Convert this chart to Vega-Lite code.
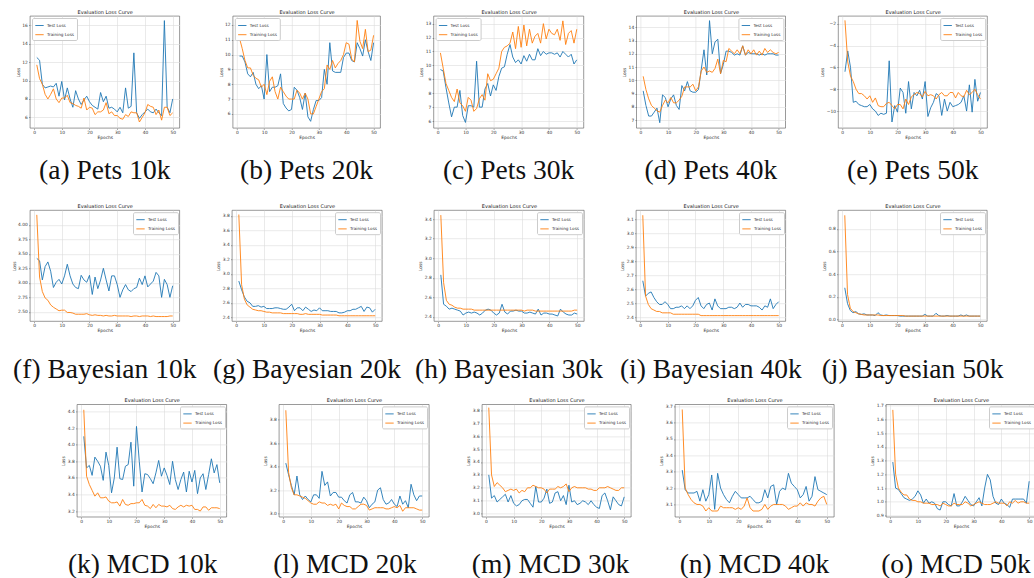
{
"$schema":"https://vega.github.io/schema/vega-lite/v6.json",
"padding":{"left":10,"top":8,"right":0,"bottom":0},
"bounds":"flush","spacing":194.2,
"resolve":{"scale":{"color":"independent","x":"independent","y":"independent"},"legend":{"color":"independent"}},
"config":{
"font":"DejaVu Sans",
"view":{"stroke":"#555","strokeWidth":0.6},
"axis":{"labelFont":"DejaVu Sans","labelFontSize":4.4,"labelColor":"#333","titleFont":"DejaVu Sans","titleFontSize":4.4,"titleFontWeight":"normal","titleColor":"#333","tickColor":"#555","tickSize":1.5,"tickWidth":0.5,"domain":false,"grid":true,"gridColor":"#dcdcdc","gridWidth":0.6,"labelPadding":1.2,"titlePadding":1.5},
"axisTop":{"labels":false,"ticks":false,"grid":false,"domain":false,"titleFontSize":5,"titlePadding":2,"titleColor":"#222"},
"legend":{"labelFont":"DejaVu Sans","labelFontSize":4.2,"labelColor":"#333","symbolType":"stroke","symbolSize":70,"symbolStrokeWidth":0.9,"padding":2.5,"rowPadding":1.2,"fillColor":"white","strokeColor":"#ccc","cornerRadius":1.5,"offset":2,"labelOffset":2.5},
"title":{"font":"Liberation Serif","fontSize":27.5,"fontWeight":"normal","color":"#111","orient":"bottom","anchor":"middle","frame":"group","offset":17.5}
},
"datasets":{
"a":[{"e":1,"t":12.5,"r":11.7},{"e":2,"t":12.2,"r":10.2},{"e":3,"t":9.6,"r":9.6},{"e":4,"t":9.2,"r":8.5},{"e":5,"t":9.3,"r":8.0},{"e":6,"t":9.4,"r":8.5},{"e":7,"t":9.3,"r":9.1},{"e":8,"t":9.7,"r":8.0},{"e":9,"t":8.3,"r":7.6},{"e":10,"t":9.9,"r":8.1},{"e":11,"t":7.9,"r":8.1},{"e":12,"t":9.2,"r":8.4},{"e":13,"t":8.0,"r":7.6},{"e":14,"t":7.1,"r":7.5},{"e":15,"t":8.9,"r":7.3},{"e":16,"t":8.0,"r":7.2},{"e":17,"t":7.4,"r":7.0},{"e":18,"t":7.9,"r":8.1},{"e":19,"t":8.3,"r":6.8},{"e":20,"t":7.7,"r":7.1},{"e":21,"t":7.3,"r":7.0},{"e":22,"t":7.1,"r":6.3},{"e":23,"t":6.9,"r":6.6},{"e":24,"t":8.7,"r":6.6},{"e":25,"t":7.7,"r":6.8},{"e":26,"t":8.3,"r":7.6},{"e":27,"t":7.0,"r":6.4},{"e":28,"t":7.1,"r":6.6},{"e":29,"t":6.9,"r":6.2},{"e":30,"t":6.6,"r":6.2},{"e":31,"t":7.1,"r":5.9},{"e":32,"t":6.5,"r":5.8},{"e":33,"t":9.2,"r":6.3},{"e":34,"t":7.0,"r":6.1},{"e":35,"t":7.2,"r":6.6},{"e":36,"t":13.0,"r":6.5},{"e":37,"t":6.5,"r":6.5},{"e":38,"t":5.9,"r":5.5},{"e":39,"t":6.3,"r":6.0},{"e":40,"t":6.6,"r":6.5},{"e":41,"t":6.9,"r":7.4},{"e":42,"t":6.6,"r":7.2},{"e":43,"t":6.5,"r":7.1},{"e":44,"t":6.9,"r":6.3},{"e":45,"t":6.5,"r":6.8},{"e":46,"t":6.2,"r":5.7},{"e":47,"t":16.5,"r":7.1},{"e":48,"t":7.1,"r":7.1},{"e":49,"t":6.5,"r":6.2},{"e":50,"t":8.0,"r":6.5}],
"b":[{"e":1,"t":9.9,"r":11.1},{"e":2,"t":9.9,"r":10.4},{"e":3,"t":9.5,"r":9.6},{"e":4,"t":8.7,"r":9.1},{"e":5,"t":8.5,"r":9.1},{"e":6,"t":8.8,"r":8.6},{"e":7,"t":8.0,"r":8.4},{"e":8,"t":7.7,"r":8.3},{"e":9,"t":7.9,"r":7.8},{"e":10,"t":7.0,"r":8.0},{"e":11,"t":10.0,"r":7.3},{"e":12,"t":7.5,"r":8.2},{"e":13,"t":7.8,"r":8.5},{"e":14,"t":7.8,"r":7.5},{"e":15,"t":7.9,"r":7.0},{"e":16,"t":8.7,"r":7.8},{"e":17,"t":6.7,"r":7.5},{"e":18,"t":6.4,"r":7.2},{"e":19,"t":6.2,"r":7.0},{"e":20,"t":6.3,"r":7.0},{"e":21,"t":7.8,"r":7.0},{"e":22,"t":7.6,"r":7.6},{"e":23,"t":7.1,"r":7.4},{"e":24,"t":6.3,"r":7.0},{"e":25,"t":7.4,"r":7.4},{"e":26,"t":5.8,"r":7.0},{"e":27,"t":5.5,"r":6.0},{"e":28,"t":6.3,"r":6.0},{"e":29,"t":6.9,"r":6.5},{"e":30,"t":6.9,"r":7.0},{"e":31,"t":7.1,"r":7.5},{"e":32,"t":9.0,"r":7.7},{"e":33,"t":8.0,"r":9.3},{"e":34,"t":10.8,"r":9.0},{"e":35,"t":8.9,"r":9.6},{"e":36,"t":8.8,"r":9.1},{"e":37,"t":8.8,"r":9.4},{"e":38,"t":8.8,"r":9.6},{"e":39,"t":9.8,"r":10.0},{"e":40,"t":10.1,"r":10.8},{"e":41,"t":10.1,"r":10.7},{"e":42,"t":9.6,"r":9.7},{"e":43,"t":9.5,"r":9.5},{"e":44,"t":10.8,"r":12.3},{"e":45,"t":10.4,"r":10.9},{"e":46,"t":9.9,"r":10.4},{"e":47,"t":11.0,"r":11.7},{"e":48,"t":10.2,"r":10.2},{"e":49,"t":9.6,"r":10.3},{"e":50,"t":10.8,"r":11.3}],
"c":[{"e":1,"t":9.7,"r":10.9},{"e":2,"t":9.6,"r":9.8},{"e":3,"t":8.4,"r":8.7},{"e":4,"t":7.3,"r":8.2},{"e":5,"t":6.3,"r":7.7},{"e":6,"t":7.0,"r":7.4},{"e":7,"t":7.0,"r":8.3},{"e":8,"t":8.2,"r":7.3},{"e":9,"t":6.4,"r":7.1},{"e":10,"t":5.9,"r":6.7},{"e":11,"t":7.1,"r":7.7},{"e":12,"t":7.1,"r":7.5},{"e":13,"t":7.0,"r":6.7},{"e":14,"t":10.3,"r":6.9},{"e":15,"t":7.0,"r":7.6},{"e":16,"t":7.0,"r":7.9},{"e":17,"t":8.3,"r":7.5},{"e":18,"t":8.7,"r":9.4},{"e":19,"t":7.8,"r":8.9},{"e":20,"t":8.6,"r":9.0},{"e":21,"t":8.2,"r":9.4},{"e":22,"t":9.2,"r":9.8},{"e":23,"t":9.8,"r":11.0},{"e":24,"t":9.9,"r":11.3},{"e":25,"t":10.8,"r":11.4},{"e":26,"t":11.5,"r":11.6},{"e":27,"t":10.6,"r":12.4},{"e":28,"t":10.2,"r":11.2},{"e":29,"t":10.4,"r":12.8},{"e":30,"t":10.1,"r":11.3},{"e":31,"t":10.7,"r":12.9},{"e":32,"t":10.3,"r":11.4},{"e":33,"t":10.8,"r":12.6},{"e":34,"t":10.4,"r":11.6},{"e":35,"t":10.4,"r":12.1},{"e":36,"t":11.2,"r":12.3},{"e":37,"t":10.7,"r":11.6},{"e":38,"t":11.0,"r":13.0},{"e":39,"t":10.8,"r":11.9},{"e":40,"t":10.9,"r":12.6},{"e":41,"t":10.9,"r":12.3},{"e":42,"t":10.8,"r":12.2},{"e":43,"t":10.9,"r":12.6},{"e":44,"t":10.6,"r":11.8},{"e":45,"t":11.0,"r":13.2},{"e":46,"t":10.8,"r":11.5},{"e":47,"t":10.6,"r":12.3},{"e":48,"t":10.8,"r":12.5},{"e":49,"t":10.1,"r":11.6},{"e":50,"t":10.4,"r":12.6}],
"d":[{"e":1,"t":9.2,"r":10.3},{"e":2,"t":8.1,"r":9.3},{"e":3,"t":7.3,"r":8.6},{"e":4,"t":7.3,"r":8.1},{"e":5,"t":7.6,"r":7.9},{"e":6,"t":7.9,"r":7.7},{"e":7,"t":6.8,"r":7.6},{"e":8,"t":8.9,"r":8.1},{"e":9,"t":8.7,"r":8.5},{"e":10,"t":8.0,"r":8.3},{"e":11,"t":8.6,"r":8.7},{"e":12,"t":8.9,"r":8.3},{"e":13,"t":8.1,"r":8.3},{"e":14,"t":7.8,"r":8.5},{"e":15,"t":9.6,"r":8.8},{"e":16,"t":9.2,"r":9.5},{"e":17,"t":9.9,"r":9.5},{"e":18,"t":9.2,"r":9.5},{"e":19,"t":9.1,"r":9.7},{"e":20,"t":9.1,"r":9.2},{"e":21,"t":9.3,"r":9.5},{"e":22,"t":10.8,"r":10.7},{"e":23,"t":12.3,"r":11.0},{"e":24,"t":10.4,"r":10.6},{"e":25,"t":14.5,"r":10.7},{"e":26,"t":12.0,"r":10.6},{"e":27,"t":12.9,"r":10.9},{"e":28,"t":13.1,"r":11.6},{"e":29,"t":10.5,"r":10.5},{"e":30,"t":11.2,"r":11.5},{"e":31,"t":12.2,"r":11.4},{"e":32,"t":12.2,"r":12.4},{"e":33,"t":12.1,"r":12.2},{"e":34,"t":11.9,"r":12.0},{"e":35,"t":12.0,"r":12.3},{"e":36,"t":11.9,"r":12.0},{"e":37,"t":12.6,"r":12.6},{"e":38,"t":11.9,"r":11.9},{"e":39,"t":12.1,"r":12.3},{"e":40,"t":12.0,"r":12.0},{"e":41,"t":12.0,"r":12.3},{"e":42,"t":12.0,"r":11.9},{"e":43,"t":11.9,"r":12.2},{"e":44,"t":12.0,"r":11.9},{"e":45,"t":11.9,"r":12.4},{"e":46,"t":12.0,"r":12.1},{"e":47,"t":12.0,"r":12.3},{"e":48,"t":12.0,"r":12.1},{"e":49,"t":11.9,"r":12.0},{"e":50,"t":11.9,"r":12.1}],
"ee":[{"e":1,"t":-6.4,"r":-1.7},{"e":2,"t":-4.5,"r":-5.5},{"e":3,"t":-6.0,"r":-6.8},{"e":4,"t":-9.2,"r":-7.3},{"e":5,"t":-9.1,"r":-8.0},{"e":6,"t":-9.4,"r":-8.4},{"e":7,"t":-9.5,"r":-8.4},{"e":8,"t":-9.6,"r":-8.6},{"e":9,"t":-9.6,"r":-8.9},{"e":10,"t":-9.4,"r":-8.6},{"e":11,"t":-9.8,"r":-9.2},{"e":12,"t":-10.0,"r":-8.8},{"e":13,"t":-10.4,"r":-9.5},{"e":14,"t":-10.2,"r":-9.6},{"e":15,"t":-10.3,"r":-9.6},{"e":16,"t":-10.2,"r":-9.3},{"e":17,"t":-5.4,"r":-9.2},{"e":18,"t":-11.0,"r":-9.5},{"e":19,"t":-9.5,"r":-9.8},{"e":20,"t":-10.1,"r":-9.4},{"e":21,"t":-7.9,"r":-9.4},{"e":22,"t":-8.3,"r":-9.8},{"e":23,"t":-10.2,"r":-8.9},{"e":24,"t":-7.3,"r":-9.4},{"e":25,"t":-9.8,"r":-8.7},{"e":26,"t":-8.3,"r":-8.5},{"e":27,"t":-8.6,"r":-8.3},{"e":28,"t":-8.1,"r":-8.4},{"e":29,"t":-8.9,"r":-8.7},{"e":30,"t":-7.3,"r":-8.2},{"e":31,"t":-10.5,"r":-8.6},{"e":32,"t":-9.7,"r":-8.5},{"e":33,"t":-9.2,"r":-8.6},{"e":34,"t":-8.4,"r":-8.9},{"e":35,"t":-8.6,"r":-8.5},{"e":36,"t":-10.4,"r":-8.3},{"e":37,"t":-8.9,"r":-8.6},{"e":38,"t":-10.0,"r":-8.6},{"e":39,"t":-9.2,"r":-8.3},{"e":40,"t":-9.6,"r":-8.3},{"e":41,"t":-9.5,"r":-8.8},{"e":42,"t":-9.4,"r":-8.3},{"e":43,"t":-9.2,"r":-8.6},{"e":44,"t":-8.6,"r":-8.7},{"e":45,"t":-10.0,"r":-8.1},{"e":46,"t":-7.6,"r":-8.5},{"e":47,"t":-10.1,"r":-8.3},{"e":48,"t":-7.1,"r":-8.0},{"e":49,"t":-9.1,"r":-8.5},{"e":50,"t":-8.3,"r":-8.9}],
"f":[{"e":1,"t":3.42,"r":4.17},{"e":2,"t":3.38,"r":3.1},{"e":3,"t":3.05,"r":2.85},{"e":4,"t":3.28,"r":2.74},{"e":5,"t":3.36,"r":2.7},{"e":6,"t":3.2,"r":2.62},{"e":7,"t":2.92,"r":2.58},{"e":8,"t":3.01,"r":2.55},{"e":9,"t":3.06,"r":2.52},{"e":10,"t":2.98,"r":2.53},{"e":11,"t":3.12,"r":2.53},{"e":12,"t":3.32,"r":2.49},{"e":13,"t":3.12,"r":2.49},{"e":14,"t":2.98,"r":2.48},{"e":15,"t":2.92,"r":2.46},{"e":16,"t":2.9,"r":2.46},{"e":17,"t":3.13,"r":2.46},{"e":18,"t":3.05,"r":2.46},{"e":19,"t":3.01,"r":2.47},{"e":20,"t":3.13,"r":2.45},{"e":21,"t":2.8,"r":2.44},{"e":22,"t":3.1,"r":2.45},{"e":23,"t":2.9,"r":2.44},{"e":24,"t":3.05,"r":2.44},{"e":25,"t":3.25,"r":2.43},{"e":26,"t":3.05,"r":2.44},{"e":27,"t":2.86,"r":2.43},{"e":28,"t":3.12,"r":2.43},{"e":29,"t":3.12,"r":2.44},{"e":30,"t":2.97,"r":2.43},{"e":31,"t":2.75,"r":2.43},{"e":32,"t":2.88,"r":2.43},{"e":33,"t":2.97,"r":2.43},{"e":34,"t":2.88,"r":2.43},{"e":35,"t":2.85,"r":2.42},{"e":36,"t":2.9,"r":2.43},{"e":37,"t":2.92,"r":2.43},{"e":38,"t":3.08,"r":2.42},{"e":39,"t":2.97,"r":2.43},{"e":40,"t":3.12,"r":2.43},{"e":41,"t":2.93,"r":2.43},{"e":42,"t":2.98,"r":2.42},{"e":43,"t":3.03,"r":2.43},{"e":44,"t":3.18,"r":2.42},{"e":45,"t":3.12,"r":2.42},{"e":46,"t":2.75,"r":2.42},{"e":47,"t":3.06,"r":2.42},{"e":48,"t":2.97,"r":2.42},{"e":49,"t":2.75,"r":2.43},{"e":50,"t":2.95,"r":2.43}],
"g":[{"e":1,"t":2.9,"r":3.82},{"e":2,"t":2.78,"r":2.85},{"e":3,"t":2.68,"r":2.65},{"e":4,"t":2.62,"r":2.57},{"e":5,"t":2.6,"r":2.54},{"e":6,"t":2.55,"r":2.51},{"e":7,"t":2.55,"r":2.5},{"e":8,"t":2.56,"r":2.49},{"e":9,"t":2.54,"r":2.49},{"e":10,"t":2.55,"r":2.48},{"e":11,"t":2.52,"r":2.47},{"e":12,"t":2.52,"r":2.47},{"e":13,"t":2.52,"r":2.46},{"e":14,"t":2.53,"r":2.46},{"e":15,"t":2.53,"r":2.46},{"e":16,"t":2.52,"r":2.46},{"e":17,"t":2.51,"r":2.45},{"e":18,"t":2.51,"r":2.45},{"e":19,"t":2.54,"r":2.45},{"e":20,"t":2.58,"r":2.45},{"e":21,"t":2.49,"r":2.45},{"e":22,"t":2.53,"r":2.45},{"e":23,"t":2.53,"r":2.44},{"e":24,"t":2.49,"r":2.44},{"e":25,"t":2.54,"r":2.45},{"e":26,"t":2.51,"r":2.44},{"e":27,"t":2.48,"r":2.44},{"e":28,"t":2.5,"r":2.44},{"e":29,"t":2.49,"r":2.44},{"e":30,"t":2.53,"r":2.44},{"e":31,"t":2.49,"r":2.43},{"e":32,"t":2.49,"r":2.43},{"e":33,"t":2.49,"r":2.43},{"e":34,"t":2.48,"r":2.43},{"e":35,"t":2.48,"r":2.43},{"e":36,"t":2.48,"r":2.43},{"e":37,"t":2.46,"r":2.42},{"e":38,"t":2.46,"r":2.42},{"e":39,"t":2.47,"r":2.42},{"e":40,"t":2.49,"r":2.42},{"e":41,"t":2.49,"r":2.42},{"e":42,"t":2.51,"r":2.42},{"e":43,"t":2.51,"r":2.42},{"e":44,"t":2.53,"r":2.42},{"e":45,"t":2.55,"r":2.42},{"e":46,"t":2.48,"r":2.42},{"e":47,"t":2.54,"r":2.42},{"e":48,"t":2.53,"r":2.42},{"e":49,"t":2.47,"r":2.42},{"e":50,"t":2.51,"r":2.42}],
"h":[{"e":1,"t":2.83,"r":3.44},{"e":2,"t":2.53,"r":2.75},{"e":3,"t":2.51,"r":2.57},{"e":4,"t":2.48,"r":2.53},{"e":5,"t":2.49,"r":2.52},{"e":6,"t":2.48,"r":2.5},{"e":7,"t":2.47,"r":2.49},{"e":8,"t":2.46,"r":2.49},{"e":9,"t":2.42,"r":2.48},{"e":10,"t":2.44,"r":2.48},{"e":11,"t":2.45,"r":2.48},{"e":12,"t":2.44,"r":2.48},{"e":13,"t":2.45,"r":2.47},{"e":14,"t":2.44,"r":2.47},{"e":15,"t":2.42,"r":2.47},{"e":16,"t":2.44,"r":2.47},{"e":17,"t":2.47,"r":2.47},{"e":18,"t":2.48,"r":2.47},{"e":19,"t":2.47,"r":2.47},{"e":20,"t":2.44,"r":2.47},{"e":21,"t":2.42,"r":2.47},{"e":22,"t":2.44,"r":2.47},{"e":23,"t":2.53,"r":2.47},{"e":24,"t":2.45,"r":2.47},{"e":25,"t":2.43,"r":2.47},{"e":26,"t":2.46,"r":2.47},{"e":27,"t":2.46,"r":2.47},{"e":28,"t":2.47,"r":2.47},{"e":29,"t":2.46,"r":2.47},{"e":30,"t":2.46,"r":2.47},{"e":31,"t":2.44,"r":2.46},{"e":32,"t":2.44,"r":2.47},{"e":33,"t":2.45,"r":2.47},{"e":34,"t":2.44,"r":2.47},{"e":35,"t":2.43,"r":2.46},{"e":36,"t":2.48,"r":2.46},{"e":37,"t":2.42,"r":2.46},{"e":38,"t":2.44,"r":2.46},{"e":39,"t":2.44,"r":2.46},{"e":40,"t":2.43,"r":2.46},{"e":41,"t":2.43,"r":2.46},{"e":42,"t":2.42,"r":2.46},{"e":43,"t":2.41,"r":2.46},{"e":44,"t":2.48,"r":2.46},{"e":45,"t":2.45,"r":2.46},{"e":46,"t":2.43,"r":2.46},{"e":47,"t":2.42,"r":2.46},{"e":48,"t":2.42,"r":2.46},{"e":49,"t":2.44,"r":2.47},{"e":50,"t":2.43,"r":2.47}],
"i":[{"e":1,"t":2.66,"r":3.13},{"e":2,"t":2.55,"r":2.55},{"e":3,"t":2.57,"r":2.49},{"e":4,"t":2.58,"r":2.46},{"e":5,"t":2.54,"r":2.45},{"e":6,"t":2.51,"r":2.44},{"e":7,"t":2.49,"r":2.44},{"e":8,"t":2.49,"r":2.43},{"e":9,"t":2.51,"r":2.43},{"e":10,"t":2.49,"r":2.43},{"e":11,"t":2.46,"r":2.43},{"e":12,"t":2.46,"r":2.42},{"e":13,"t":2.47,"r":2.42},{"e":14,"t":2.47,"r":2.42},{"e":15,"t":2.48,"r":2.42},{"e":16,"t":2.46,"r":2.42},{"e":17,"t":2.48,"r":2.42},{"e":18,"t":2.46,"r":2.42},{"e":19,"t":2.48,"r":2.42},{"e":20,"t":2.52,"r":2.42},{"e":21,"t":2.54,"r":2.42},{"e":22,"t":2.48,"r":2.41},{"e":23,"t":2.46,"r":2.41},{"e":24,"t":2.49,"r":2.41},{"e":25,"t":2.5,"r":2.41},{"e":26,"t":2.45,"r":2.41},{"e":27,"t":2.53,"r":2.41},{"e":28,"t":2.48,"r":2.41},{"e":29,"t":2.46,"r":2.41},{"e":30,"t":2.46,"r":2.41},{"e":31,"t":2.46,"r":2.41},{"e":32,"t":2.47,"r":2.41},{"e":33,"t":2.47,"r":2.41},{"e":34,"t":2.46,"r":2.41},{"e":35,"t":2.47,"r":2.41},{"e":36,"t":2.5,"r":2.41},{"e":37,"t":2.47,"r":2.41},{"e":38,"t":2.49,"r":2.41},{"e":39,"t":2.49,"r":2.41},{"e":40,"t":2.48,"r":2.41},{"e":41,"t":2.48,"r":2.41},{"e":42,"t":2.48,"r":2.41},{"e":43,"t":2.47,"r":2.41},{"e":44,"t":2.45,"r":2.41},{"e":45,"t":2.48,"r":2.41},{"e":46,"t":2.47,"r":2.41},{"e":47,"t":2.53,"r":2.41},{"e":48,"t":2.46,"r":2.41},{"e":49,"t":2.49,"r":2.41},{"e":50,"t":2.51,"r":2.41}],
"j":[{"e":1,"t":0.28,"r":0.92},{"e":2,"t":0.14,"r":0.22},{"e":3,"t":0.08,"r":0.1},{"e":4,"t":0.06,"r":0.07},{"e":5,"t":0.07,"r":0.06},{"e":6,"t":0.05,"r":0.05},{"e":7,"t":0.045,"r":0.045},{"e":8,"t":0.05,"r":0.04},{"e":9,"t":0.04,"r":0.04},{"e":10,"t":0.04,"r":0.04},{"e":11,"t":0.04,"r":0.04},{"e":12,"t":0.035,"r":0.04},{"e":13,"t":0.06,"r":0.04},{"e":14,"t":0.04,"r":0.035},{"e":15,"t":0.035,"r":0.035},{"e":16,"t":0.04,"r":0.035},{"e":17,"t":0.035,"r":0.035},{"e":18,"t":0.035,"r":0.035},{"e":19,"t":0.035,"r":0.035},{"e":20,"t":0.035,"r":0.035},{"e":21,"t":0.03,"r":0.035},{"e":22,"t":0.03,"r":0.035},{"e":23,"t":0.03,"r":0.03},{"e":24,"t":0.03,"r":0.03},{"e":25,"t":0.03,"r":0.03},{"e":26,"t":0.03,"r":0.03},{"e":27,"t":0.03,"r":0.03},{"e":28,"t":0.03,"r":0.03},{"e":29,"t":0.03,"r":0.03},{"e":30,"t":0.045,"r":0.03},{"e":31,"t":0.03,"r":0.03},{"e":32,"t":0.03,"r":0.03},{"e":33,"t":0.03,"r":0.03},{"e":34,"t":0.055,"r":0.03},{"e":35,"t":0.035,"r":0.03},{"e":36,"t":0.03,"r":0.03},{"e":37,"t":0.03,"r":0.03},{"e":38,"t":0.035,"r":0.03},{"e":39,"t":0.03,"r":0.03},{"e":40,"t":0.03,"r":0.03},{"e":41,"t":0.03,"r":0.03},{"e":42,"t":0.03,"r":0.03},{"e":43,"t":0.04,"r":0.03},{"e":44,"t":0.03,"r":0.03},{"e":45,"t":0.04,"r":0.03},{"e":46,"t":0.03,"r":0.03},{"e":47,"t":0.03,"r":0.03},{"e":48,"t":0.03,"r":0.03},{"e":49,"t":0.03,"r":0.03},{"e":50,"t":0.03,"r":0.03}],
"k":[{"e":1,"t":4.1,"r":4.42},{"e":2,"t":3.72,"r":3.62},{"e":3,"t":3.75,"r":3.52},{"e":4,"t":3.63,"r":3.45},{"e":5,"t":3.85,"r":3.38},{"e":6,"t":3.8,"r":3.42},{"e":7,"t":3.74,"r":3.36},{"e":8,"t":3.57,"r":3.36},{"e":9,"t":3.91,"r":3.37},{"e":10,"t":3.75,"r":3.32},{"e":11,"t":3.42,"r":3.3},{"e":12,"t":3.6,"r":3.3},{"e":13,"t":3.97,"r":3.31},{"e":14,"t":3.59,"r":3.26},{"e":15,"t":3.58,"r":3.34},{"e":16,"t":3.74,"r":3.28},{"e":17,"t":3.76,"r":3.27},{"e":18,"t":4.03,"r":3.29},{"e":19,"t":3.5,"r":3.29},{"e":20,"t":4.22,"r":3.3},{"e":21,"t":3.8,"r":3.3},{"e":22,"t":3.43,"r":3.34},{"e":23,"t":3.65,"r":3.27},{"e":24,"t":3.64,"r":3.26},{"e":25,"t":3.59,"r":3.23},{"e":26,"t":3.53,"r":3.28},{"e":27,"t":3.66,"r":3.24},{"e":28,"t":3.81,"r":3.28},{"e":29,"t":3.62,"r":3.26},{"e":30,"t":3.72,"r":3.26},{"e":31,"t":3.63,"r":3.25},{"e":32,"t":3.52,"r":3.27},{"e":33,"t":3.8,"r":3.23},{"e":34,"t":3.58,"r":3.22},{"e":35,"t":3.46,"r":3.25},{"e":36,"t":3.58,"r":3.27},{"e":37,"t":3.67,"r":3.25},{"e":38,"t":3.43,"r":3.27},{"e":39,"t":3.68,"r":3.26},{"e":40,"t":3.55,"r":3.27},{"e":41,"t":3.69,"r":3.22},{"e":42,"t":3.41,"r":3.22},{"e":43,"t":3.6,"r":3.2},{"e":44,"t":3.65,"r":3.25},{"e":45,"t":3.46,"r":3.25},{"e":46,"t":3.64,"r":3.21},{"e":47,"t":3.83,"r":3.24},{"e":48,"t":3.66,"r":3.24},{"e":49,"t":3.76,"r":3.24},{"e":50,"t":3.54,"r":3.23}],
"l":[{"e":1,"t":3.43,"r":3.88},{"e":2,"t":3.33,"r":3.35},{"e":3,"t":3.24,"r":3.22},{"e":4,"t":3.16,"r":3.16},{"e":5,"t":3.32,"r":3.16},{"e":6,"t":3.16,"r":3.15},{"e":7,"t":3.12,"r":3.14},{"e":8,"t":3.15,"r":3.13},{"e":9,"t":3.12,"r":3.11},{"e":10,"t":3.1,"r":3.09},{"e":11,"t":3.16,"r":3.08},{"e":12,"t":3.16,"r":3.08},{"e":13,"t":3.13,"r":3.1},{"e":14,"t":3.36,"r":3.09},{"e":15,"t":3.24,"r":3.09},{"e":16,"t":3.27,"r":3.07},{"e":17,"t":3.15,"r":3.08},{"e":18,"t":3.18,"r":3.07},{"e":19,"t":3.18,"r":3.08},{"e":20,"t":3.14,"r":3.04},{"e":21,"t":3.14,"r":3.09},{"e":22,"t":3.11,"r":3.07},{"e":23,"t":3.09,"r":3.06},{"e":24,"t":3.16,"r":3.06},{"e":25,"t":3.18,"r":3.04},{"e":26,"t":3.1,"r":3.04},{"e":27,"t":3.1,"r":3.06},{"e":28,"t":3.09,"r":3.08},{"e":29,"t":3.14,"r":3.08},{"e":30,"t":3.11,"r":3.07},{"e":31,"t":3.05,"r":3.03},{"e":32,"t":3.08,"r":3.04},{"e":33,"t":3.1,"r":3.05},{"e":34,"t":3.2,"r":3.05},{"e":35,"t":3.22,"r":3.05},{"e":36,"t":3.12,"r":3.05},{"e":37,"t":3.08,"r":3.04},{"e":38,"t":3.09,"r":3.04},{"e":39,"t":3.12,"r":3.05},{"e":40,"t":3.08,"r":3.06},{"e":41,"t":3.06,"r":3.05},{"e":42,"t":3.15,"r":3.07},{"e":43,"t":3.08,"r":3.02},{"e":44,"t":3.11,"r":3.05},{"e":45,"t":3.05,"r":3.05},{"e":46,"t":3.25,"r":3.05},{"e":47,"t":3.16,"r":3.05},{"e":48,"t":3.11,"r":3.04},{"e":49,"t":3.15,"r":3.03},{"e":50,"t":3.15,"r":3.03}],
"m":[{"e":1,"t":3.3,"r":3.82},{"e":2,"t":3.12,"r":3.3},{"e":3,"t":3.14,"r":3.21},{"e":4,"t":3.09,"r":3.24},{"e":5,"t":3.11,"r":3.22},{"e":6,"t":3.13,"r":3.2},{"e":7,"t":3.15,"r":3.17},{"e":8,"t":3.09,"r":3.18},{"e":9,"t":3.14,"r":3.19},{"e":10,"t":3.08,"r":3.18},{"e":11,"t":3.06,"r":3.19},{"e":12,"t":3.07,"r":3.16},{"e":13,"t":3.1,"r":3.18},{"e":14,"t":3.11,"r":3.17},{"e":15,"t":3.11,"r":3.2},{"e":16,"t":3.08,"r":3.2},{"e":17,"t":3.05,"r":3.22},{"e":18,"t":3.21,"r":3.21},{"e":19,"t":3.09,"r":3.2},{"e":20,"t":3.09,"r":3.2},{"e":21,"t":3.12,"r":3.19},{"e":22,"t":3.19,"r":3.16},{"e":23,"t":3.08,"r":3.19},{"e":24,"t":3.09,"r":3.19},{"e":25,"t":3.16,"r":3.19},{"e":26,"t":3.17,"r":3.21},{"e":27,"t":3.1,"r":3.2},{"e":28,"t":3.14,"r":3.21},{"e":29,"t":3.07,"r":3.23},{"e":30,"t":3.22,"r":3.17},{"e":31,"t":3.09,"r":3.2},{"e":32,"t":3.1,"r":3.21},{"e":33,"t":3.07,"r":3.2},{"e":34,"t":3.08,"r":3.2},{"e":35,"t":3.1,"r":3.2},{"e":36,"t":3.09,"r":3.2},{"e":37,"t":3.07,"r":3.19},{"e":38,"t":3.1,"r":3.19},{"e":39,"t":3.07,"r":3.18},{"e":40,"t":3.05,"r":3.18},{"e":41,"t":3.04,"r":3.2},{"e":42,"t":3.14,"r":3.2},{"e":43,"t":3.16,"r":3.2},{"e":44,"t":3.1,"r":3.21},{"e":45,"t":3.03,"r":3.2},{"e":46,"t":3.13,"r":3.19},{"e":47,"t":3.1,"r":3.18},{"e":48,"t":3.07,"r":3.18},{"e":49,"t":3.06,"r":3.2},{"e":50,"t":3.13,"r":3.2}],
"n":[{"e":1,"t":3.31,"r":3.68},{"e":2,"t":3.19,"r":3.2},{"e":3,"t":3.17,"r":3.16},{"e":4,"t":3.17,"r":3.13},{"e":5,"t":3.17,"r":3.11},{"e":6,"t":3.18,"r":3.1},{"e":7,"t":3.12,"r":3.1},{"e":8,"t":3.19,"r":3.09},{"e":9,"t":3.12,"r":3.06},{"e":10,"t":3.16,"r":3.08},{"e":11,"t":3.28,"r":3.06},{"e":12,"t":3.07,"r":3.06},{"e":13,"t":3.29,"r":3.06},{"e":14,"t":3.2,"r":3.09},{"e":15,"t":3.16,"r":3.08},{"e":16,"t":3.13,"r":3.08},{"e":17,"t":3.11,"r":3.08},{"e":18,"t":3.15,"r":3.08},{"e":19,"t":3.18,"r":3.07},{"e":20,"t":3.16,"r":3.08},{"e":21,"t":3.14,"r":3.07},{"e":22,"t":3.14,"r":3.09},{"e":23,"t":3.14,"r":3.14},{"e":24,"t":3.15,"r":3.08},{"e":25,"t":3.13,"r":3.06},{"e":26,"t":3.11,"r":3.06},{"e":27,"t":3.11,"r":3.06},{"e":28,"t":3.12,"r":3.07},{"e":29,"t":3.19,"r":3.1},{"e":30,"t":3.14,"r":3.07},{"e":31,"t":3.21,"r":3.09},{"e":32,"t":3.22,"r":3.1},{"e":33,"t":3.1,"r":3.1},{"e":34,"t":3.18,"r":3.1},{"e":35,"t":3.2,"r":3.1},{"e":36,"t":3.19,"r":3.09},{"e":37,"t":3.29,"r":3.07},{"e":38,"t":3.23,"r":3.08},{"e":39,"t":3.21,"r":3.09},{"e":40,"t":3.19,"r":3.09},{"e":41,"t":3.14,"r":3.11},{"e":42,"t":3.16,"r":3.09},{"e":43,"t":3.21,"r":3.11},{"e":44,"t":3.12,"r":3.1},{"e":45,"t":3.15,"r":3.1},{"e":46,"t":3.27,"r":3.09},{"e":47,"t":3.19,"r":3.12},{"e":48,"t":3.18,"r":3.14},{"e":49,"t":3.17,"r":3.15},{"e":50,"t":3.16,"r":3.1}],
"o":[{"e":1,"t":1.29,"r":1.67},{"e":2,"t":1.1,"r":1.2},{"e":3,"t":1.09,"r":1.1},{"e":4,"t":1.06,"r":1.07},{"e":5,"t":1.03,"r":1.05},{"e":6,"t":1.02,"r":1.05},{"e":7,"t":1.01,"r":1.02},{"e":8,"t":1.02,"r":1.01},{"e":9,"t":1.04,"r":1.01},{"e":10,"t":1.08,"r":1.0},{"e":11,"t":1.05,"r":1.0},{"e":12,"t":0.99,"r":0.99},{"e":13,"t":1.02,"r":0.99},{"e":14,"t":0.99,"r":0.99},{"e":15,"t":1.0,"r":0.98},{"e":16,"t":0.99,"r":0.98},{"e":17,"t":0.95,"r":0.98},{"e":18,"t":0.94,"r":0.97},{"e":19,"t":1.0,"r":0.99},{"e":20,"t":1.0,"r":0.98},{"e":21,"t":0.98,"r":0.97},{"e":22,"t":0.97,"r":0.97},{"e":23,"t":1.06,"r":0.99},{"e":24,"t":0.97,"r":0.98},{"e":25,"t":0.97,"r":0.98},{"e":26,"t":1.0,"r":0.98},{"e":27,"t":1.04,"r":1.0},{"e":28,"t":1.01,"r":0.99},{"e":29,"t":0.98,"r":0.97},{"e":30,"t":0.97,"r":0.98},{"e":31,"t":1.0,"r":0.99},{"e":32,"t":1.03,"r":1.0},{"e":33,"t":0.97,"r":0.99},{"e":34,"t":1.1,"r":0.98},{"e":35,"t":1.2,"r":0.98},{"e":36,"t":1.16,"r":0.98},{"e":37,"t":1.04,"r":0.99},{"e":38,"t":0.99,"r":1.0},{"e":39,"t":0.98,"r":0.99},{"e":40,"t":1.02,"r":0.99},{"e":41,"t":0.99,"r":0.99},{"e":42,"t":0.98,"r":0.97},{"e":43,"t":0.96,"r":1.0},{"e":44,"t":1.02,"r":0.99},{"e":45,"t":1.02,"r":1.01},{"e":46,"t":1.02,"r":0.99},{"e":47,"t":1.02,"r":1.0},{"e":48,"t":1.02,"r":1.0},{"e":49,"t":0.99,"r":0.99},{"e":50,"t":1.15,"r":0.99}]
},
"vconcat":[
{"spacing":52.8,"bounds":"flush","resolve":{"scale":{"color":"independent","x":"independent","y":"independent"},"legend":{"color":"independent"}},"hconcat":[
{"width":149.5,"height":112,"title":{"text":"(a) Pets 10k"},"data":{"name":"a"},"transform":[{"fold":["t","r"],"as":["s","v"]}],"layer":[{"mark":{"type":"line","strokeWidth":0.9},"encoding":{"x":{"field":"e","type":"quantitative","scale":{"domain":[-1.45,52.45],"nice":false,"zero":false},"axis":{"values":[0,10,20,30,40,50],"title":"Epochs","orient":"bottom","format":"d"}},"y":{"field":"v","type":"quantitative","scale":{"domain":[4.85,17.0],"nice":false,"zero":false},"axis":{"values":[6,8,10,12,14,16],"title":"Loss","format":"d"}},"color":{"field":"s","type":"nominal","scale":{"domain":["t","r"],"range":["#1f77b4","#ff7f0e"]},"legend":{"title":null,"orient":"top-left","labelExpr":"datum.label=='t'?'Test Loss':'Training Loss'"}}}},{"mark":{"type":"point","opacity":0},"encoding":{"x":{"field":"e","type":"quantitative","axis":{"orient":"top","title":"Evaluation Loss Curve"}}}}],"resolve":{"axis":{"x":"independent"}}},
{"width":147.5,"height":112,"title":{"text":"(b) Pets 20k"},"data":{"name":"b"},"transform":[{"fold":["t","r"],"as":["s","v"]}],"layer":[{"mark":{"type":"line","strokeWidth":0.9},"encoding":{"x":{"field":"e","type":"quantitative","scale":{"domain":[-1.45,52.45],"nice":false,"zero":false},"axis":{"values":[0,10,20,30,40,50],"title":"Epochs","orient":"bottom","format":"d"}},"y":{"field":"v","type":"quantitative","scale":{"domain":[5.05,12.6],"nice":false,"zero":false},"axis":{"values":[6,7,8,9,10,11,12],"title":"Loss","format":"d"}},"color":{"field":"s","type":"nominal","scale":{"domain":["t","r"],"range":["#1f77b4","#ff7f0e"]},"legend":{"title":null,"orient":"top-left","labelExpr":"datum.label=='t'?'Test Loss':'Training Loss'"}}}},{"mark":{"type":"point","opacity":0},"encoding":{"x":{"field":"e","type":"quantitative","axis":{"orient":"top","title":"Evaluation Loss Curve"}}}}],"resolve":{"axis":{"x":"independent"}}},
{"width":150,"height":112,"title":{"text":"(c) Pets 30k"},"data":{"name":"c"},"transform":[{"fold":["t","r"],"as":["s","v"]}],"layer":[{"mark":{"type":"line","strokeWidth":0.9},"encoding":{"x":{"field":"e","type":"quantitative","scale":{"domain":[-1.45,52.45],"nice":false,"zero":false},"axis":{"values":[0,10,20,30,40,50],"title":"Epochs","orient":"bottom","format":"d"}},"y":{"field":"v","type":"quantitative","scale":{"domain":[5.5,13.55],"nice":false,"zero":false},"axis":{"values":[6,7,8,9,10,11,12,13],"title":"Loss","format":"d"}},"color":{"field":"s","type":"nominal","scale":{"domain":["t","r"],"range":["#1f77b4","#ff7f0e"]},"legend":{"title":null,"orient":"top-left","labelExpr":"datum.label=='t'?'Test Loss':'Training Loss'"}}}},{"mark":{"type":"point","opacity":0},"encoding":{"x":{"field":"e","type":"quantitative","axis":{"orient":"top","title":"Evaluation Loss Curve"}}}}],"resolve":{"axis":{"x":"independent"}}},
{"width":149,"height":112,"title":{"text":"(d) Pets 40k"},"data":{"name":"d"},"transform":[{"fold":["t","r"],"as":["s","v"]}],"layer":[{"mark":{"type":"line","strokeWidth":0.9},"encoding":{"x":{"field":"e","type":"quantitative","scale":{"domain":[-1.45,52.45],"nice":false,"zero":false},"axis":{"values":[0,10,20,30,40,50],"title":"Epochs","orient":"bottom","format":"d"}},"y":{"field":"v","type":"quantitative","scale":{"domain":[6.4,14.85],"nice":false,"zero":false},"axis":{"values":[7,8,9,10,11,12,13,14],"title":"Loss","format":"d"}},"color":{"field":"s","type":"nominal","scale":{"domain":["t","r"],"range":["#1f77b4","#ff7f0e"]},"legend":{"title":null,"orient":"top-right","labelExpr":"datum.label=='t'?'Test Loss':'Training Loss'"}}}},{"mark":{"type":"point","opacity":0},"encoding":{"x":{"field":"e","type":"quantitative","axis":{"orient":"top","title":"Evaluation Loss Curve"}}}}],"resolve":{"axis":{"x":"independent"}}},
{"width":149,"height":112,"title":{"text":"(e) Pets 50k"},"data":{"name":"ee"},"transform":[{"fold":["t","r"],"as":["s","v"]}],"layer":[{"mark":{"type":"line","strokeWidth":0.9},"encoding":{"x":{"field":"e","type":"quantitative","scale":{"domain":[-1.45,52.45],"nice":false,"zero":false},"axis":{"values":[0,10,20,30,40,50],"title":"Epochs","orient":"bottom","format":"d"}},"y":{"field":"v","type":"quantitative","scale":{"domain":[-11.55,-1.3],"nice":false,"zero":false},"axis":{"values":[-10,-8,-6,-4,-2],"title":"Loss","format":"d"}},"color":{"field":"s","type":"nominal","scale":{"domain":["t","r"],"range":["#1f77b4","#ff7f0e"]},"legend":{"title":null,"orient":"top-right","labelExpr":"datum.label=='t'?'Test Loss':'Training Loss'"}}}},{"mark":{"type":"point","opacity":0},"encoding":{"x":{"field":"e","type":"quantitative","axis":{"orient":"top","title":"Evaluation Loss Curve"}}}}],"resolve":{"axis":{"x":"independent"}}}
]},
{"spacing":52,"bounds":"flush","resolve":{"scale":{"color":"independent","x":"independent","y":"independent"},"legend":{"color":"independent"}},"hconcat":[
{"width":149.5,"height":111,"title":{"text":"(f) Bayesian 10k","offset":23.5},"data":{"name":"f"},"transform":[{"fold":["t","r"],"as":["s","v"]}],"layer":[{"mark":{"type":"line","strokeWidth":0.9},"encoding":{"x":{"field":"e","type":"quantitative","scale":{"domain":[-1.45,52.45],"nice":false,"zero":false},"axis":{"values":[0,10,20,30,40,50],"title":"Epochs","orient":"bottom","format":"d"}},"y":{"field":"v","type":"quantitative","scale":{"domain":[2.34,4.25],"nice":false,"zero":false},"axis":{"values":[2.5,2.75,3.0,3.25,3.5,3.75,4.0],"title":"Loss","format":".2f"}},"color":{"field":"s","type":"nominal","scale":{"domain":["t","r"],"range":["#1f77b4","#ff7f0e"]},"legend":{"title":null,"orient":"top-right","labelExpr":"datum.label=='t'?'Test Loss':'Training Loss'"}}}},{"mark":{"type":"point","opacity":0},"encoding":{"x":{"field":"e","type":"quantitative","axis":{"orient":"top","title":"Evaluation Loss Curve"}}}}],"resolve":{"axis":{"x":"independent"}}},
{"width":150,"height":111,"title":{"text":"(g) Bayesian 20k","offset":23.5},"data":{"name":"g"},"transform":[{"fold":["t","r"],"as":["s","v"]}],"layer":[{"mark":{"type":"line","strokeWidth":0.9},"encoding":{"x":{"field":"e","type":"quantitative","scale":{"domain":[-1.45,52.45],"nice":false,"zero":false},"axis":{"values":[0,10,20,30,40,50],"title":"Epochs","orient":"bottom","format":"d"}},"y":{"field":"v","type":"quantitative","scale":{"domain":[2.345,3.88],"nice":false,"zero":false},"axis":{"values":[2.4,2.6,2.8,3.0,3.2,3.4,3.6,3.8],"title":"Loss","format":".1f"}},"color":{"field":"s","type":"nominal","scale":{"domain":["t","r"],"range":["#1f77b4","#ff7f0e"]},"legend":{"title":null,"orient":"top-right","labelExpr":"datum.label=='t'?'Test Loss':'Training Loss'"}}}},{"mark":{"type":"point","opacity":0},"encoding":{"x":{"field":"e","type":"quantitative","axis":{"orient":"top","title":"Evaluation Loss Curve"}}}}],"resolve":{"axis":{"x":"independent"}}},
{"width":150,"height":111,"title":{"text":"(h) Bayesian 30k","offset":23.5},"data":{"name":"h"},"transform":[{"fold":["t","r"],"as":["s","v"]}],"layer":[{"mark":{"type":"line","strokeWidth":0.9},"encoding":{"x":{"field":"e","type":"quantitative","scale":{"domain":[-1.45,52.45],"nice":false,"zero":false},"axis":{"values":[0,10,20,30,40,50],"title":"Epochs","orient":"bottom","format":"d"}},"y":{"field":"v","type":"quantitative","scale":{"domain":[2.357,3.49],"nice":false,"zero":false},"axis":{"values":[2.4,2.6,2.8,3.0,3.2,3.4],"title":"Loss","format":".1f"}},"color":{"field":"s","type":"nominal","scale":{"domain":["t","r"],"range":["#1f77b4","#ff7f0e"]},"legend":{"title":null,"orient":"top-right","labelExpr":"datum.label=='t'?'Test Loss':'Training Loss'"}}}},{"mark":{"type":"point","opacity":0},"encoding":{"x":{"field":"e","type":"quantitative","axis":{"orient":"top","title":"Evaluation Loss Curve"}}}}],"resolve":{"axis":{"x":"independent"}}},
{"width":149.5,"height":111,"title":{"text":"(i) Bayesian 40k","offset":23.5},"data":{"name":"i"},"transform":[{"fold":["t","r"],"as":["s","v"]}],"layer":[{"mark":{"type":"line","strokeWidth":0.9},"encoding":{"x":{"field":"e","type":"quantitative","scale":{"domain":[-1.45,52.45],"nice":false,"zero":false},"axis":{"values":[0,10,20,30,40,50],"title":"Epochs","orient":"bottom","format":"d"}},"y":{"field":"v","type":"quantitative","scale":{"domain":[2.37,3.166],"nice":false,"zero":false},"axis":{"values":[2.4,2.5,2.6,2.7,2.8,2.9,3.0,3.1],"title":"Loss","format":".1f"}},"color":{"field":"s","type":"nominal","scale":{"domain":["t","r"],"range":["#1f77b4","#ff7f0e"]},"legend":{"title":null,"orient":"top-right","labelExpr":"datum.label=='t'?'Test Loss':'Training Loss'"}}}},{"mark":{"type":"point","opacity":0},"encoding":{"x":{"field":"e","type":"quantitative","axis":{"orient":"top","title":"Evaluation Loss Curve"}}}}],"resolve":{"axis":{"x":"independent"}}},
{"width":149,"height":111,"title":{"text":"(j) Bayesian 50k","offset":23.5},"data":{"name":"j"},"transform":[{"fold":["t","r"],"as":["s","v"]}],"layer":[{"mark":{"type":"line","strokeWidth":0.9},"encoding":{"x":{"field":"e","type":"quantitative","scale":{"domain":[-1.45,52.45],"nice":false,"zero":false},"axis":{"values":[0,10,20,30,40,50],"title":"Epochs","orient":"bottom","format":"d"}},"y":{"field":"v","type":"quantitative","scale":{"domain":[-0.015,0.965],"nice":false,"zero":false},"axis":{"values":[0,0.2,0.4,0.6,0.8],"title":"Loss","format":".1f"}},"color":{"field":"s","type":"nominal","scale":{"domain":["t","r"],"range":["#1f77b4","#ff7f0e"]},"legend":{"title":null,"orient":"top-right","labelExpr":"datum.label=='t'?'Test Loss':'Training Loss'"}}}},{"mark":{"type":"point","opacity":0},"encoding":{"x":{"field":"e","type":"quantitative","axis":{"orient":"top","title":"Evaluation Loss Curve"}}}}],"resolve":{"axis":{"x":"independent"}}}
]},
{"spacing":0,"bounds":"flush","resolve":{"scale":{"color":"independent","x":"independent","y":"independent"},"legend":{"color":"independent"}},"hconcat":[
{"width":46.7,"height":1,"data":{"values":[{}]},"mark":{"type":"point","opacity":0},"view":{"stroke":null}},
{"width":149.5,"height":112.5,"title":{"text":"(k) MCD 10k","offset":23.5,"dx":-9},"data":{"name":"k"},"transform":[{"fold":["t","r"],"as":["s","v"]}],"layer":[{"mark":{"type":"line","strokeWidth":0.9},"encoding":{"x":{"field":"e","type":"quantitative","scale":{"domain":[-1.45,52.45],"nice":false,"zero":false},"axis":{"values":[0,10,20,30,40,50],"title":"Epochs","orient":"bottom","format":"d"}},"y":{"field":"v","type":"quantitative","scale":{"domain":[3.13,4.485],"nice":false,"zero":false},"axis":{"values":[3.2,3.4,3.6,3.8,4.0,4.2,4.4],"title":"Loss","format":".1f"}},"color":{"field":"s","type":"nominal","scale":{"domain":["t","r"],"range":["#1f77b4","#ff7f0e"]},"legend":{"title":null,"orient":"top-right","labelExpr":"datum.label=='t'?'Test Loss':'Training Loss'"}}}},{"mark":{"type":"point","opacity":0},"encoding":{"x":{"field":"e","type":"quantitative","axis":{"orient":"top","title":"Evaluation Loss Curve"}}}}],"resolve":{"axis":{"x":"independent"}}},
{"width":51.5,"height":1,"data":{"values":[{}]},"mark":{"type":"point","opacity":0},"view":{"stroke":null}},
{"width":150,"height":112.5,"title":{"text":"(l) MCD 20k","offset":23.5,"dx":-9},"data":{"name":"l"},"transform":[{"fold":["t","r"],"as":["s","v"]}],"layer":[{"mark":{"type":"line","strokeWidth":0.9},"encoding":{"x":{"field":"e","type":"quantitative","scale":{"domain":[-1.45,52.45],"nice":false,"zero":false},"axis":{"values":[0,10,20,30,40,50],"title":"Epochs","orient":"bottom","format":"d"}},"y":{"field":"v","type":"quantitative","scale":{"domain":[2.972,3.93],"nice":false,"zero":false},"axis":{"values":[3.0,3.2,3.4,3.6,3.8],"title":"Loss","format":".1f"}},"color":{"field":"s","type":"nominal","scale":{"domain":["t","r"],"range":["#1f77b4","#ff7f0e"]},"legend":{"title":null,"orient":"top-right","labelExpr":"datum.label=='t'?'Test Loss':'Training Loss'"}}}},{"mark":{"type":"point","opacity":0},"encoding":{"x":{"field":"e","type":"quantitative","axis":{"orient":"top","title":"Evaluation Loss Curve"}}}}],"resolve":{"axis":{"x":"independent"}}},
{"width":52.7,"height":1,"data":{"values":[{}]},"mark":{"type":"point","opacity":0},"view":{"stroke":null}},
{"width":149,"height":112.5,"title":{"text":"(m) MCD 30k","offset":23.5,"dx":-6},"data":{"name":"m"},"transform":[{"fold":["t","r"],"as":["s","v"]}],"layer":[{"mark":{"type":"line","strokeWidth":0.9},"encoding":{"x":{"field":"e","type":"quantitative","scale":{"domain":[-1.45,52.45],"nice":false,"zero":false},"axis":{"values":[0,10,20,30,40,50],"title":"Epochs","orient":"bottom","format":"d"}},"y":{"field":"v","type":"quantitative","scale":{"domain":[2.975,3.845],"nice":false,"zero":false},"axis":{"values":[3.0,3.1,3.2,3.3,3.4,3.5,3.6,3.7,3.8],"title":"Loss","format":".1f"}},"color":{"field":"s","type":"nominal","scale":{"domain":["t","r"],"range":["#1f77b4","#ff7f0e"]},"legend":{"title":null,"orient":"top-right","labelExpr":"datum.label=='t'?'Test Loss':'Training Loss'"}}}},{"mark":{"type":"point","opacity":0},"encoding":{"x":{"field":"e","type":"quantitative","axis":{"orient":"top","title":"Evaluation Loss Curve"}}}}],"resolve":{"axis":{"x":"independent"}}},
{"width":43.3,"height":1,"data":{"values":[{}]},"mark":{"type":"point","opacity":0},"view":{"stroke":null}},
{"width":159,"height":112.5,"title":{"text":"(n) MCD 40k","offset":23.5},"data":{"name":"n"},"transform":[{"fold":["t","r"],"as":["s","v"]}],"layer":[{"mark":{"type":"line","strokeWidth":0.9},"encoding":{"x":{"field":"e","type":"quantitative","scale":{"domain":[-1.45,52.45],"nice":false,"zero":false},"axis":{"values":[0,10,20,30,40,50],"title":"Epochs","orient":"bottom","format":"d"}},"y":{"field":"v","type":"quantitative","scale":{"domain":[3.024,3.711],"nice":false,"zero":false},"axis":{"values":[3.1,3.2,3.3,3.4,3.5,3.6,3.7],"title":"Loss","format":".1f"}},"color":{"field":"s","type":"nominal","scale":{"domain":["t","r"],"range":["#1f77b4","#ff7f0e"]},"legend":{"title":null,"orient":"top-right","labelExpr":"datum.label=='t'?'Test Loss':'Training Loss'"}}}},{"mark":{"type":"point","opacity":0},"encoding":{"x":{"field":"e","type":"quantitative","axis":{"orient":"top","title":"Evaluation Loss Curve"}}}}],"resolve":{"axis":{"x":"independent"}}},
{"width":52,"height":1,"data":{"values":[{}]},"mark":{"type":"point","opacity":0},"view":{"stroke":null}},
{"width":150,"height":112.5,"title":{"text":"(o) MCD 50k","offset":23.5,"dx":-5},"data":{"name":"o"},"transform":[{"fold":["t","r"],"as":["s","v"]}],"layer":[{"mark":{"type":"line","strokeWidth":0.9},"encoding":{"x":{"field":"e","type":"quantitative","scale":{"domain":[-1.45,52.45],"nice":false,"zero":false},"axis":{"values":[0,10,20,30,40,50],"title":"Epochs","orient":"bottom","format":"d"}},"y":{"field":"v","type":"quantitative","scale":{"domain":[0.89,1.71],"nice":false,"zero":false},"axis":{"values":[0.9,1.0,1.1,1.2,1.3,1.4,1.5,1.6,1.7],"title":"Loss","format":".1f"}},"color":{"field":"s","type":"nominal","scale":{"domain":["t","r"],"range":["#1f77b4","#ff7f0e"]},"legend":{"title":null,"orient":"top-right","labelExpr":"datum.label=='t'?'Test Loss':'Training Loss'"}}}},{"mark":{"type":"point","opacity":0},"encoding":{"x":{"field":"e","type":"quantitative","axis":{"orient":"top","title":"Evaluation Loss Curve"}}}}],"resolve":{"axis":{"x":"independent"}}}
]}
]
}
